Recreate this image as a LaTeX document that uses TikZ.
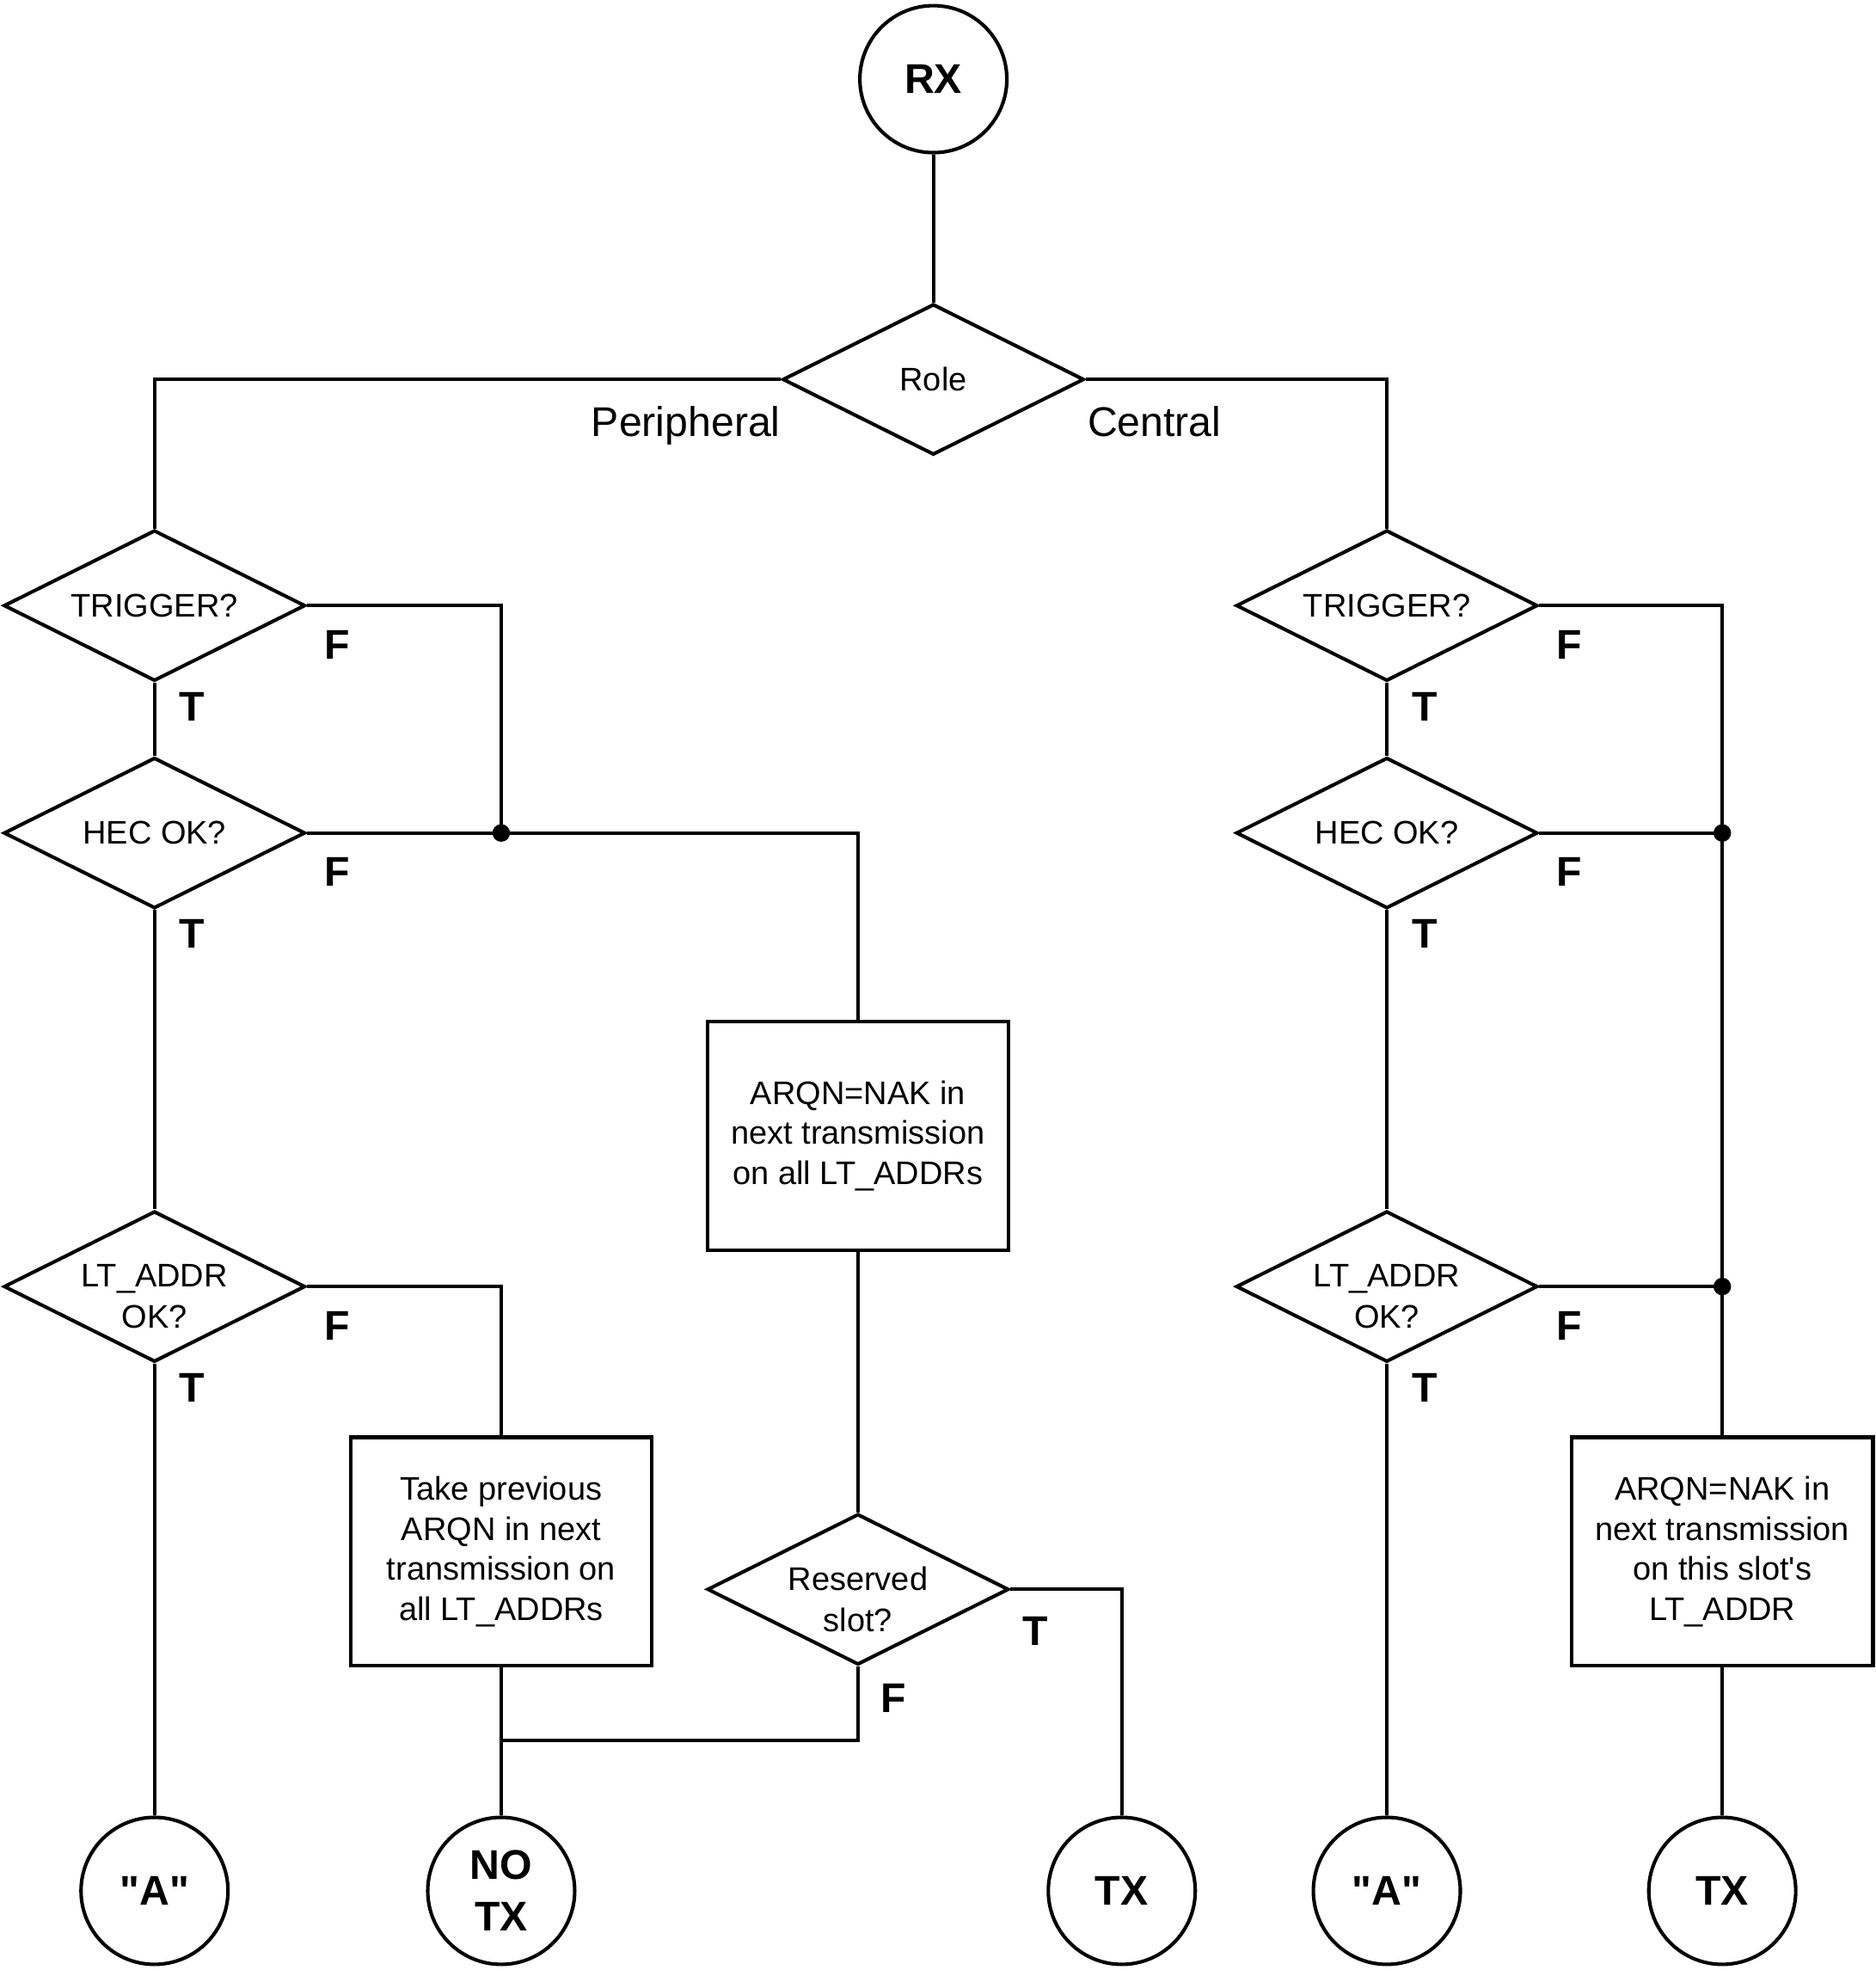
\documentclass[tikz,border=0pt]{standalone}
\usepackage{fontspec}
\setmainfont{Liberation Sans}
\usetikzlibrary{shapes.geometric}

\begin{document}
\begin{tikzpicture}[x=0.5pt,y=-0.5pt,line width=1.4pt,
decision/.style={draw,shape=diamond,aspect=2,minimum width=120pt,minimum height=60pt,inner sep=0pt,font={\fontsize{13}{16.5}\selectfont}},
dtwo/.style={align=center,yshift=-4pt,font={\fontsize{13}{16.5}\selectfont}},
action/.style={draw,rectangle,minimum width=120pt,minimum height=91pt,align=center,font={\fontsize{13}{16}\selectfont}},
term/.style={draw,circle,minimum size=58.5pt,inner sep=0pt,align=center,font={\bfseries\fontsize{16.5}{20.5}\selectfont}},
tf/.style={font={\bfseries\fontsize{16.5}{20}\selectfont}},
lbl/.style={font={\fontsize{16.5}{20}\selectfont},inner sep=0pt},
dot/.style={circle,fill,inner sep=0pt,minimum size=7pt}
]
\useasboundingbox (0,0) rectangle (1493,1568);

\node[term] (rx) at (743,63) {RX};
\node[decision] (role) at (743,302) {Role};
\node[lbl,anchor=base east] at ([shift={(1,45)}]role.west) {Peripheral};
\node[lbl,anchor=base west] at ([shift={(0,45)}]role.east) {Central};

\node[decision] (trigL) at (123,482) {TRIGGER?};
\node[decision] (hecL) at (123,663) {HEC OK?};
\node[decision,label={[dtwo]center:{LT\_ADDR\\OK?}}] (ladrL) at (123,1024) {};
\node[action] (arqL) at (683,904) {ARQN=NAK in\\next transmission\\on all LT\_ADDRs};
\node[action] (takeL) at (399,1235) {Take previous\\ARQN in next\\transmission on\\all LT\_ADDRs};
\node[decision,label={[dtwo]center:{Reserved\\slot?}}] (resv) at (683,1265) {};
\node[term] (aL) at (123,1505) {\textquotedbl A\textquotedbl};
\node[term] (notx) at (399,1505) {NO\\TX};
\node[term] (txL) at (893,1505) {TX};
\node[dot] (jL) at (399,663) {};
\coordinate (mrg) at (399,1385);

\node[decision] (trigR) at (1104,482) {TRIGGER?};
\node[decision] (hecR) at (1104,663) {HEC OK?};
\node[decision,label={[dtwo]center:{LT\_ADDR\\OK?}}] (ladrR) at (1104,1024) {};
\node[action] (arqR) at (1371,1235) {ARQN=NAK in\\next transmission\\on this slot\textquotesingle s\\LT\_ADDR};
\node[term] (aR) at (1104,1505) {\textquotedbl A\textquotedbl};
\node[term] (txR) at (1371,1505) {TX};
\node[dot] (jR1) at (1371,663) {};
\node[dot] (jR2) at (1371,1024) {};

\foreach \d in {trigL,hecL,ladrL,trigR,hecR,ladrR} {
\node[tf] at ([shift={(24,31)}]\d.east) {F};
\node[tf] at ([shift={(30,19)}]\d.south) {T};
};
\node[tf] at ([shift={(20,33)}]resv.east) {T};
\node[tf] at ([shift={(28,25)}]resv.south) {F};

\draw (rx) -- (role);
\draw (role.west) -| (trigL.north);
\draw (role.east) -| (trigR.north);
\draw (trigL.south) -- (hecL.north);
\draw (hecL.south) -- (ladrL.north);
\draw (ladrL.south) -- (aL.north);
\draw (trigL.east) -| (jL.center);
\draw (hecL.east) -- (jL.center) -| (arqL.north);
\draw (ladrL.east) -| (takeL.north);
\draw (arqL.south) -- (resv.north);
\draw (takeL.south) -- (notx.north);
\draw (resv.south) |- (mrg);
\draw (resv.east) -| (txL.north);

\draw (trigR.south) -- (hecR.north);
\draw (hecR.south) -- (ladrR.north);
\draw (ladrR.south) -- (aR.north);
\draw (trigR.east) -| (arqR.north);
\draw (hecR.east) -- (jR1.center);
\draw (ladrR.east) -- (jR2.center);
\draw (arqR.south) -- (txR.north);
\end{tikzpicture}
\end{document}
